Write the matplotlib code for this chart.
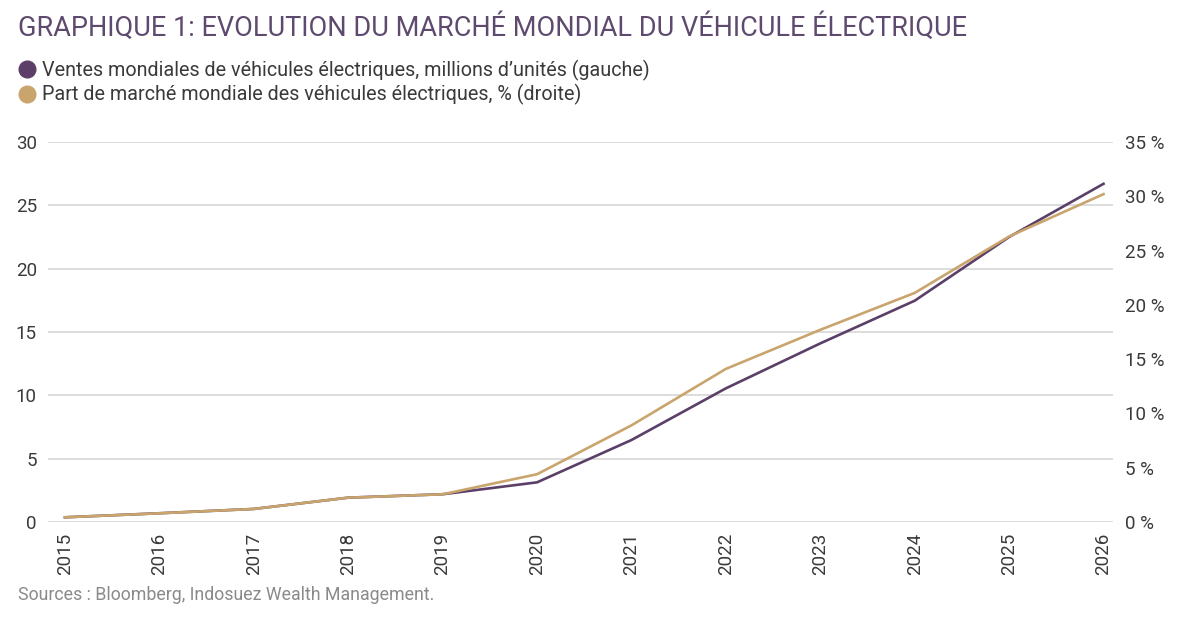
import numpy as np
import matplotlib.pyplot as plt
from matplotlib.lines import Line2D

# donnees
annees = [2015, 2016, 2017, 2018, 2019, 2020, 2021, 2022, 2023, 2024, 2025, 2026]
ventes = [0.37, 0.69, 1.03, 1.92, 2.19, 3.13, 6.47, 10.55, 14.1, 17.47, 22.5, 26.7]
part = [0.43, 0.80, 1.20, 2.24, 2.55, 4.4, 8.9, 14.1, 17.7, 21.1, 26.3, 30.2]

gauche_ticks = [0, 5, 10, 15, 20, 25, 30]
droite_ticks = [0, 5, 10, 15, 20, 25, 30, 35]

violet = "#5b3f68"
or_ = "#c9a56d"
texte = "#3a3a3a"

plt.rcParams['font.family'] = ['Roboto', 'DejaVu Sans']

fig = plt.figure(figsize=(11.81, 6.22), dpi=100)
ax = fig.add_axes([0.0406, 0.1608, 0.9018, 0.6109])

ax.plot(annees, ventes, color=violet, linewidth=1.9, zorder=3)
ax.set_xlim(2014.82, 2026.1)
ax.set_ylim(0, 30)
ax.set_yticks(gauche_ticks)
ax.set_xticks(annees)
ax.set_xticklabels([str(a) for a in annees], rotation=90)
ax.grid(axis='y', color='#dddddd', linewidth=1.4)
ax.set_axisbelow(True)
for s in ax.spines.values():
    s.set_visible(False)
ax.tick_params(axis='both', length=0, labelsize=13.5, colors=texte)
ax.tick_params(axis='y', pad=8)
ax.tick_params(axis='x', pad=8)

ax2 = ax.twinx()
ax2.plot(annees, part, color=or_, linewidth=1.9, zorder=4)
ax2.set_ylim(0, 35)
ax2.set_yticks(droite_ticks)
ax2.set_yticklabels([f"{t} %" for t in droite_ticks])
for s in ax2.spines.values():
    s.set_visible(False)
ax2.tick_params(axis='y', length=0, labelsize=13.5, colors=texte, pad=9)

# titre
fig.text(0.015, 0.955, "GRAPHIQUE 1: EVOLUTION DU MARCHÉ MONDIAL DU VÉHICULE ÉLECTRIQUE",
         fontsize=19.5, color="#5e4a6e", ha='left', va='center')

# legende
handles = [Line2D([], [], marker='o', color=violet, linestyle='none', markersize=12),
           Line2D([], [], marker='o', color=or_, linestyle='none', markersize=12)]
labels = ["Ventes mondiales de véhicules électriques, millions d’unités (gauche)",
          "Part de marché mondiale des véhicules électriques, % (droite)"]
fig.legend(handles, labels, loc='upper left', bbox_to_anchor=(0.004, 0.917),
           frameon=False, fontsize=14.2, handletextpad=0.0, labelspacing=0.18,
           handlelength=1.5, borderaxespad=0, labelcolor=texte)

# source
fig.text(0.015, 0.043, "Sources : Bloomberg, Indosuez Wealth Management.",
         fontsize=12.8, color="#8a8a8a", ha='left', va='center')

plt.savefig("out.png", dpi=100)
